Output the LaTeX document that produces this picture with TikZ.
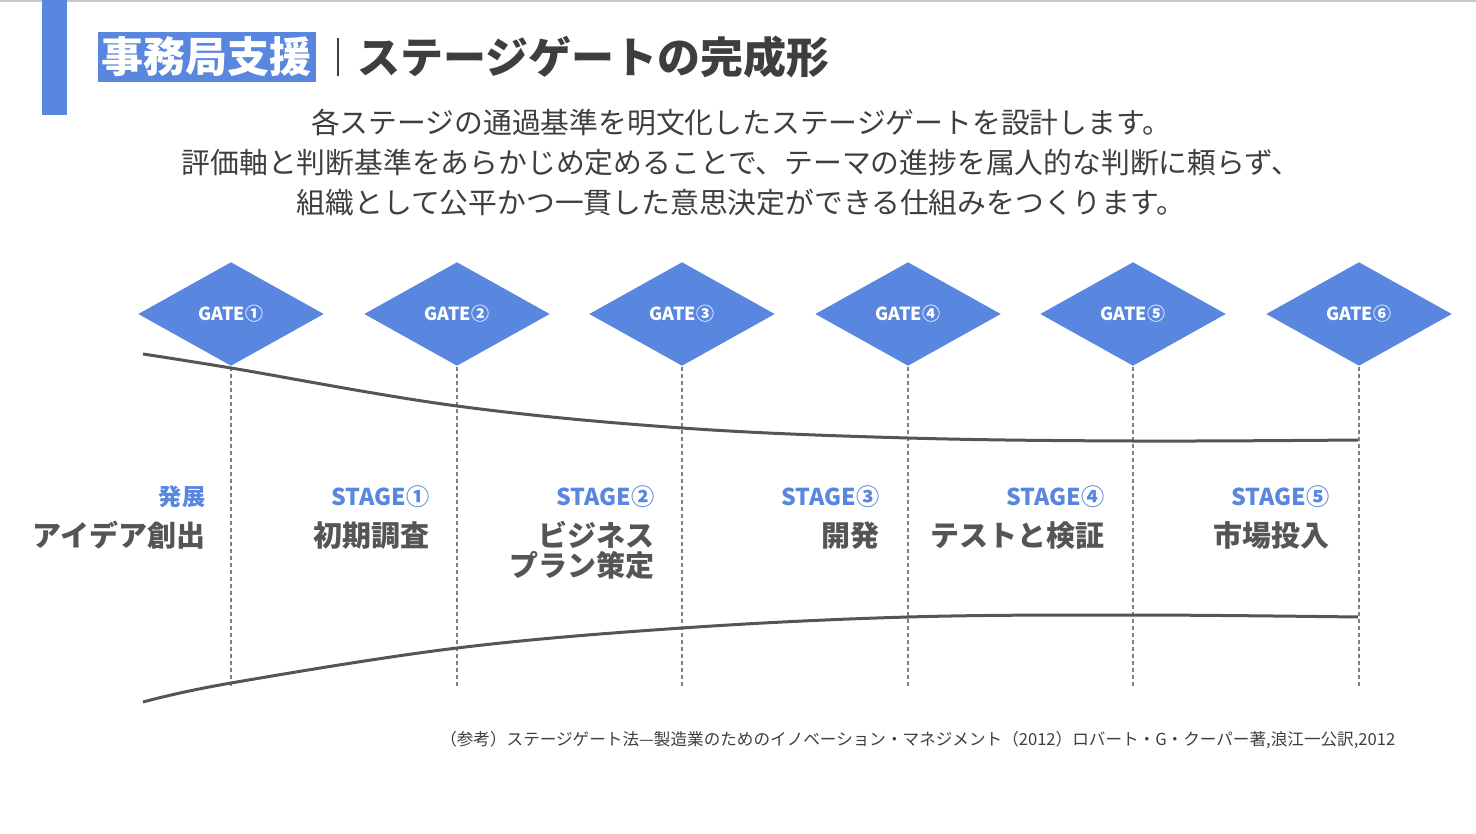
\documentclass[tikz,border=0pt]{standalone}
\usepackage{fontspec}
\setmainfont{Noto Sans CJK JP}
\usetikzlibrary{shapes.geometric}
\definecolor{mainblue}{RGB}{89,134,223}
\definecolor{inkgray}{RGB}{62,62,62}
\definecolor{stagegray}{RGB}{85,85,85}
\definecolor{rulegray}{RGB}{200,200,200}
\begin{document}
\begin{tikzpicture}[x=0.5pt, y=-0.5pt, line width=0.75pt,
    gate/.style={diamond, aspect=1.79, fill=mainblue, text=white, inner sep=0pt,
      minimum width=93pt, minimum height=52pt, font=\bfseries\fontsize{9}{10}\selectfont},
    gateline/.style={draw=gray, line width=0.6pt, dash pattern=on 2pt off 1.5pt},
    stagetag/.style={anchor=base east, inner sep=0pt, text=mainblue,
      font=\bfseries\fontsize{11.6}{13}\selectfont},
    stagename/.style={anchor=base east, inner sep=0pt, align=right, text=stagegray,
      font=\bfseries\fontsize{14.5}{15}\selectfont},
    funnel/.style={draw=stagegray, line width=1.5pt}]
  \useasboundingbox (0,0) rectangle (1476,834);

  % header
  \draw[rulegray, line width=1.5pt] (0,1) -- (1476,1);
  \fill[mainblue] (42,0) rectangle (67,115);
  \node[anchor=west, fill=mainblue, text=white, inner sep=0pt, minimum width=109pt, minimum height=25pt,
    font=\bfseries\fontsize{21}{24}\selectfont] (section) at (97,57) {事務局支援};
  \node[anchor=west, inner sep=0pt, text=inkgray, font=\bfseries\fontsize{21.5}{24}\selectfont]
    (title) at (357,57) {ステージゲートの完成形};
  \draw[inkgray] (338,38) -- (338,76);
  \node[align=center, text=inkgray, font=\fontsize{14.4}{20}\selectfont] (lead) at (741,163)
    {各ステージの通過基準を明文化したステージゲートを設計します。\\
     評価軸と判断基準をあらかじめ定めることで、テーマの進捗を属人的な判断に頼らず、\\
     組織として公平かつ一貫した意思決定ができる仕組みをつくります。};

  % gates
  \node[gate] (g1) at (231,314) {GATE①};
  \node[gate] (g2) at (457,314) {GATE②};
  \node[gate] (g3) at (682,314) {GATE③};
  \node[gate] (g4) at (908,314) {GATE④};
  \node[gate] (g5) at (1133,314) {GATE⑤};
  \node[gate] (g6) at (1359,314) {GATE⑥};
  \coordinate (e1) at (231,688);
  \coordinate (e2) at (457,688);
  \coordinate (e3) at (682,688);
  \coordinate (e4) at (908,688);
  \coordinate (e5) at (1133,688);
  \coordinate (e6) at (1359,688);
  \draw[gateline] (g1.south) -- (e1);
  \draw[gateline] (g2.south) -- (e2);
  \draw[gateline] (g3.south) -- (e3);
  \draw[gateline] (g4.south) -- (e4);
  \draw[gateline] (g5.south) -- (e5);
  \draw[gateline] (g6.south) -- (e6);

  % funnel
  \draw[funnel] plot[smooth, tension=0.6] coordinates
    {(143,354) (231,368) (457,406) (682,428) (908,438) (1133,441) (1358,440)};
  \draw[funnel] plot[smooth, tension=0.6] coordinates
    {(143,702) (231,683) (457,648) (682,628) (908,617) (1133,615) (1358,617)};

  % stages
  \node[stagetag] (t0) at (206,505) {発展};
  \node[stagetag] (t1) at (430,505) {STAGE①};
  \node[stagetag] (t2) at (655,505) {STAGE②};
  \node[stagetag] (t3) at (880,505) {STAGE③};
  \node[stagetag] (t4) at (1105,505) {STAGE④};
  \node[stagetag] (t5) at (1330,505) {STAGE⑤};
  \node[stagename] (s0) at (206,546) {アイデア創出};
  \node[stagename] (s1) at (430,546) {初期調査};
  \node[stagename] (s2) at (655,576) {ビジネス\\プラン策定};
  \node[stagename] (s3) at (880,546) {開発};
  \node[stagename] (s4) at (1105,546) {テストと検証};
  \node[stagename] (s5) at (1330,546) {市場投入};

  \node[anchor=east, inner sep=0pt, text=inkgray, font=\fontsize{8.3}{9}\selectfont] (ref) at (1396,740)
    {（参考）ステージゲート法—製造業のためのイノベーション・マネジメント（2012）ロバート・G・クーパー著,浪江一公訳,2012};
\end{tikzpicture}
\end{document}
